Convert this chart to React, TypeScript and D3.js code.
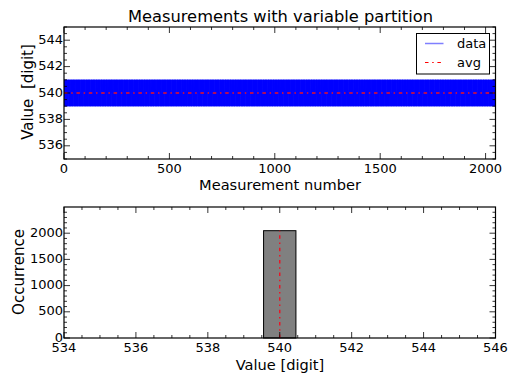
import React from "react";
import * as d3 from "d3";

// ---- data ----
const N_MEASUREMENTS = 2048;
// repeating sample of the raw readings (digits); the record is a dense band 539..541
const readingSample = [540, 541, 539, 540, 541, 539, 540, 539, 541, 540, 541, 539];
const measurements: number[] = Array.from({ length: N_MEASUREMENTS }, (_, i) => readingSample[i % readingSample.length]);
const average = 540;

const histBinStart = [539.55];
const histBinEnd = [540.45];
const histCounts = [2048];

const topXTicks = [0, 500, 1000, 1500, 2000];
const topYTicks = [536, 538, 540, 542, 544];
const botXTicks = [534, 536, 538, 540, 542, 544, 546];
const botYTicks = [0, 500, 1000, 1500, 2000];

const FONT = "DejaVu Sans, sans-serif";
const DASHDOT = "3.5,3.7,1.5,3.7";

type AxisProps = {
  x: d3.ScaleLinear<number, number>;
  y: d3.ScaleLinear<number, number>;
  xMajor: number[];
  xMinor: number[];
  yMajor: number[];
  yMinor: number[];
};

function Frame({ x, y, xMajor, xMinor, yMajor, yMinor }: AxisProps) {
  const [xa, xb] = x.range();
  const [ya, yb] = y.range(); // ya bottom, yb top
  const ML = 6, mL = 3;
  const lines: React.ReactNode[] = [];
  xMajor.forEach((t, i) => {
    const px = x(t);
    lines.push(<line key={"xM" + i} x1={px} x2={px} y1={ya} y2={ya - ML} />);
    lines.push(<line key={"xMt" + i} x1={px} x2={px} y1={yb} y2={yb + ML} />);
  });
  xMinor.forEach((t, i) => {
    const px = x(t);
    lines.push(<line key={"xm" + i} x1={px} x2={px} y1={ya} y2={ya - mL} />);
    lines.push(<line key={"xmt" + i} x1={px} x2={px} y1={yb} y2={yb + mL} />);
  });
  yMajor.forEach((t, i) => {
    const py = y(t);
    lines.push(<line key={"yM" + i} x1={xa} x2={xa + ML} y1={py} y2={py} />);
    lines.push(<line key={"yMr" + i} x1={xb} x2={xb - ML} y1={py} y2={py} />);
  });
  yMinor.forEach((t, i) => {
    const py = y(t);
    lines.push(<line key={"ym" + i} x1={xa} x2={xa + mL} y1={py} y2={py} />);
    lines.push(<line key={"ymr" + i} x1={xb} x2={xb - mL} y1={py} y2={py} />);
  });
  return (
    <g>
      <g stroke="#000" strokeWidth={0.8}>{lines}</g>
      <rect x={xa} y={yb} width={xb - xa} height={ya - yb} fill="none" stroke="#000" strokeWidth={1.2} />
      <g fontFamily={FONT} fontSize={13} fill="#000">
        {xMajor.map((t, i) => (
          <text key={"xl" + i} x={x(t)} y={ya + 14.3} textAnchor="middle">{t}</text>
        ))}
        {yMajor.map((t, i) => (
          <text key={"yl" + i} x={xa - 1} y={y(t) - 1} textAnchor="end" dominantBaseline="central">{t}</text>
        ))}
      </g>
    </g>
  );
}

export default function App() {
  const L = 64, R = 495.5;
  // top panel
  const xTop = d3.scaleLinear().domain([0, N_MEASUREMENTS - 1]).range([L, R]);
  const yTop = d3.scaleLinear().domain([535, 545]).range([159, 27]);
  const dataLine = d3.line<number>().x((_, i) => xTop(i)).y((d) => yTop(d));
  // bottom panel
  const xBot = d3.scaleLinear().domain([534, 546]).range([L, R]);
  const yBot = d3.scaleLinear().domain([0, 2500]).range([338, 207]);

  const topXMinor = d3.range(0, 2048, 100).filter((v) => v % 500 !== 0);
  const topYMinor = d3.range(535, 545.01, 0.5).filter((v) => Math.abs(v % 2) > 1e-9);
  const botXMinor = d3.range(534, 546.01, 0.5).filter((v) => Math.abs(v % 2) > 1e-9);
  const botYMinor = d3.range(0, 2501, 100).filter((v) => v % 500 !== 0);

  return (
    <svg width={516} height={373} style={{ position: "fixed", left: 0, top: 0, background: "#fff" }}>
      <rect width={516} height={373} fill="#fff" />
      <text x={280.5} y={22} textAnchor="middle" fontFamily={FONT} fontSize={16.3}>Measurements with variable partition</text>

      <defs>
        <clipPath id="clipTop"><rect x={L} y={27} width={R - L} height={132} /></clipPath>
      </defs>
      <g clipPath="url(#clipTop)">
        <path d={dataLine(measurements) || ""} fill="none" stroke="#0000ff" strokeWidth={1} />
        <line x1={xTop(0)} x2={xTop(N_MEASUREMENTS - 1)} y1={yTop(average)} y2={yTop(average)} stroke="#ee1122" strokeWidth={1.4} strokeDasharray={DASHDOT} />
      </g>
      <Frame x={xTop} y={yTop} xMajor={topXTicks} xMinor={topXMinor} yMajor={topYTicks} yMinor={topYMinor} />
      <text x={280} y={190} textAnchor="middle" fontFamily={FONT} fontSize={14.6}>Measurement number</text>
      <text transform="translate(32.5,92) rotate(-90)" textAnchor="middle" fontFamily={FONT} fontSize={15}>{"Value\u00a0\u00a0[digit]"}</text>

      {/* legend */}
      <g>
        <rect x={416.5} y={33.5} width={73} height={40.5} fill="#fff" stroke="#000" strokeWidth={1} />
        <line x1={425} x2={443.5} y1={43.5} y2={43.5} stroke="#0000ff" strokeOpacity={0.5} strokeWidth={1.5} />
        <line x1={425} x2={443.5} y1={62.5} y2={62.5} stroke="#ff0000" strokeWidth={1.2} strokeDasharray={DASHDOT} />
        <text x={457} y={48} fontFamily={FONT} fontSize={13}>data</text>
        <text x={457} y={66.5} fontFamily={FONT} fontSize={13}>avg</text>
      </g>

      {/* histogram */}
      <g>
        {histCounts.map((c, i) => (
          <rect key={i} x={xBot(histBinStart[i])} y={yBot(c)} width={xBot(histBinEnd[i]) - xBot(histBinStart[i])} height={yBot(0) - yBot(c)} fill="#808080" stroke="#000" strokeWidth={1} />
        ))}
        <line x1={xBot(average)} x2={xBot(average)} y1={yBot(0)} y2={yBot(d3.max(histCounts) || 0)} stroke="#ee1122" strokeWidth={1.4} strokeDasharray={DASHDOT} />
      </g>
      <Frame x={xBot} y={yBot} xMajor={botXTicks} xMinor={botXMinor} yMajor={botYTicks} yMinor={botYMinor} />
      <text x={280} y={370} textAnchor="middle" fontFamily={FONT} fontSize={14.6}>Value [digit]</text>
      <text transform="translate(23.5,272) rotate(-90)" textAnchor="middle" fontFamily={FONT} fontSize={15}>Occurrence</text>
    </svg>
  );
}
